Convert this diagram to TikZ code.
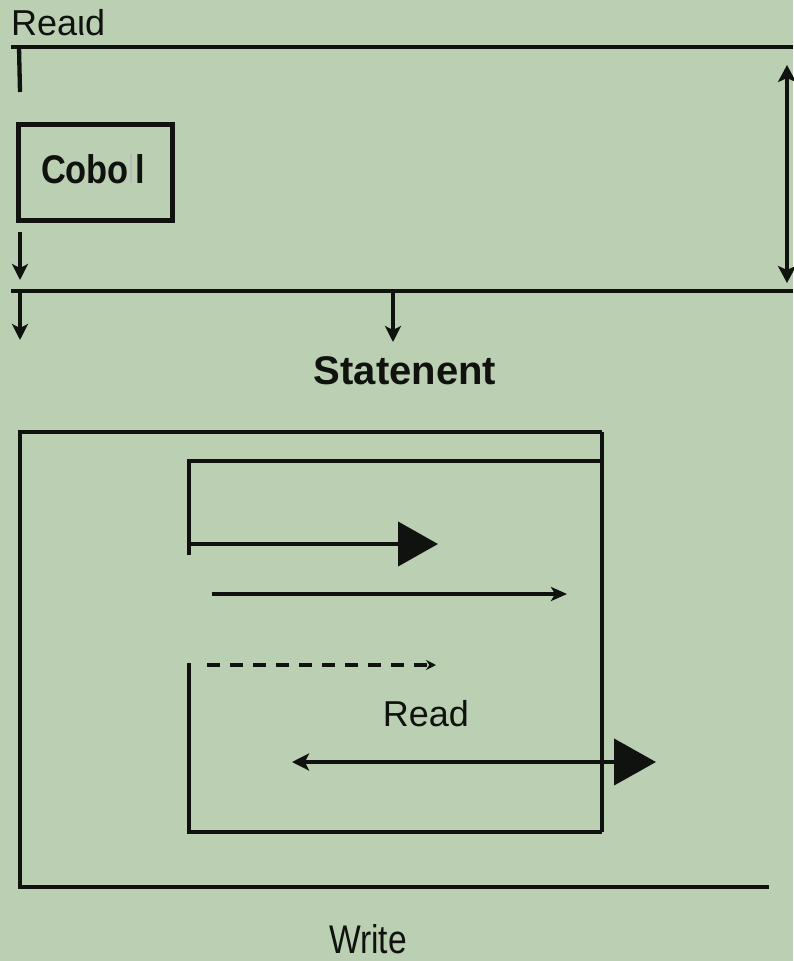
\documentclass[tikz,border=0pt]{standalone}
\usepackage{fontspec}
\setmainfont{Liberation Sans}
\usetikzlibrary{arrows.meta}
\definecolor{paper}{RGB}{187,208,178}
\definecolor{ink}{RGB}{16,18,16}
\begin{document}
\begin{tikzpicture}[x=1pt,y=-1pt,
  rule/.style={draw=ink,line width=4.3pt},
  fine/.style={draw=ink,line width=3.4pt},
  smallhead/.style={-{Stealth[length=16pt,width=16pt,inset=4pt]}},
  twohead/.style={{Stealth[length=17pt,width=18pt,inset=4pt]}-{Stealth[length=17pt,width=18pt,inset=4pt]}},
  bighead/.style={-{Triangle[length=40pt,width=44pt]}},
  txt/.style={inner sep=0pt,anchor=base,text=ink}
]
\fill[paper] (0,0) rectangle (793,961);
\useasboundingbox (0,0) rectangle (793,961);

% heading and top rail
\node[txt,anchor=base west,font=\fontsize{36}{40}\selectfont] (title) at (11,35) {Reaιd};
\coordinate (railAw) at (11,47);
\coordinate (railAe) at (793,47);
\draw[rule] (railAw) -- (railAe);
\coordinate (tickA) at (19,47);
\coordinate (tickB) at (20,92);
\draw[rule] (tickA) -- (tickB);

% Cobol box
\node[rule,minimum width=154pt,minimum height=96pt,inner sep=0pt] (cobol) at (95.5,172.5) {};
\node[txt,font=\bfseries\fontsize{40}{44}\selectfont] (cobolText) at (93,183)
  {\scalebox{0.86}[1]{Cobo\hspace{1pt}\textcolor{gray!55}{\rule{2.5pt}{29pt}}\hspace{4pt}l}};

% arrows down to the second rail
\coordinate (dnA) at (20,232);
\coordinate (dnB) at (20,280);
\draw[rule,smallhead] (dnA) -- (dnB);

\coordinate (railBw) at (11,291);
\coordinate (railBe) at (793,291);
\draw[rule] (railBw) -- (railBe);

\coordinate (dnC) at (20,291);
\coordinate (dnD) at (20,340);
\draw[rule,smallhead] (dnC) -- (dnD);
\coordinate (dnE) at (393,291);
\coordinate (dnF) at (393,342);
\draw[rule,smallhead] (dnE) -- (dnF);

% vertical span arrow on the right
\coordinate (spanT) at (787,65);
\coordinate (spanB) at (787,283);
\draw[rule,twohead] (spanT) -- (spanB);

\node[txt,font=\bfseries\fontsize{40}{44}\selectfont] (stmt) at (405,384) {Statenent};

% outer frame
\coordinate (oTR) at (602,432);
\coordinate (oTL) at (20,432);
\coordinate (oBL) at (20,887);
\coordinate (oBR) at (769,887);
\draw[rule] (oTR) -- (oTL) -- (oBL) -- (oBR);
\coordinate (iBR) at (602,832);
\draw[rule] (oTR) -- (iBR);

% inner frame, upper part
\coordinate (iA) at (189,555);
\coordinate (iB) at (189,461);
\coordinate (iC) at (602,461);
\draw[rule] (iA) -- (iB) -- (iC);
\coordinate (arA) at (189,544);
\coordinate (arB) at (438,544);
\draw[rule,bighead] (arA) -- (arB);

\coordinate (arC) at (212,594);
\coordinate (arD) at (567,594);
\draw[fine,-{Stealth[length=16pt,width=14pt,inset=4pt]}] (arC) -- (arD);

% dashed line
\coordinate (dsA) at (207,665);
\coordinate (dsB) at (436,665);
\draw[rule,line width=4.8pt,dash pattern=on 13pt off 10pt,-{Stealth[length=10pt,width=10pt]}] (dsA) -- (dsB);

% inner frame, lower part
\coordinate (iD) at (189,663);
\coordinate (iE) at (189,832);
\draw[rule] (iD) -- (iE) -- (iBR);

\node[txt,font=\fontsize{36}{40}\selectfont] (readLbl) at (426,726) {Read};

\coordinate (lrA) at (292,762);
\coordinate (lrB) at (656,762);
\draw[rule,{Stealth[length=17pt,width=17pt,inset=4pt]}-{Triangle[length=42pt,width=46pt]}] (lrA) -- (lrB);

\node[txt,font=\fontsize{40}{44}\selectfont] (writeLbl) at (368,953) {\scalebox{0.84}[1]{Write}};
\end{tikzpicture}
\end{document}
